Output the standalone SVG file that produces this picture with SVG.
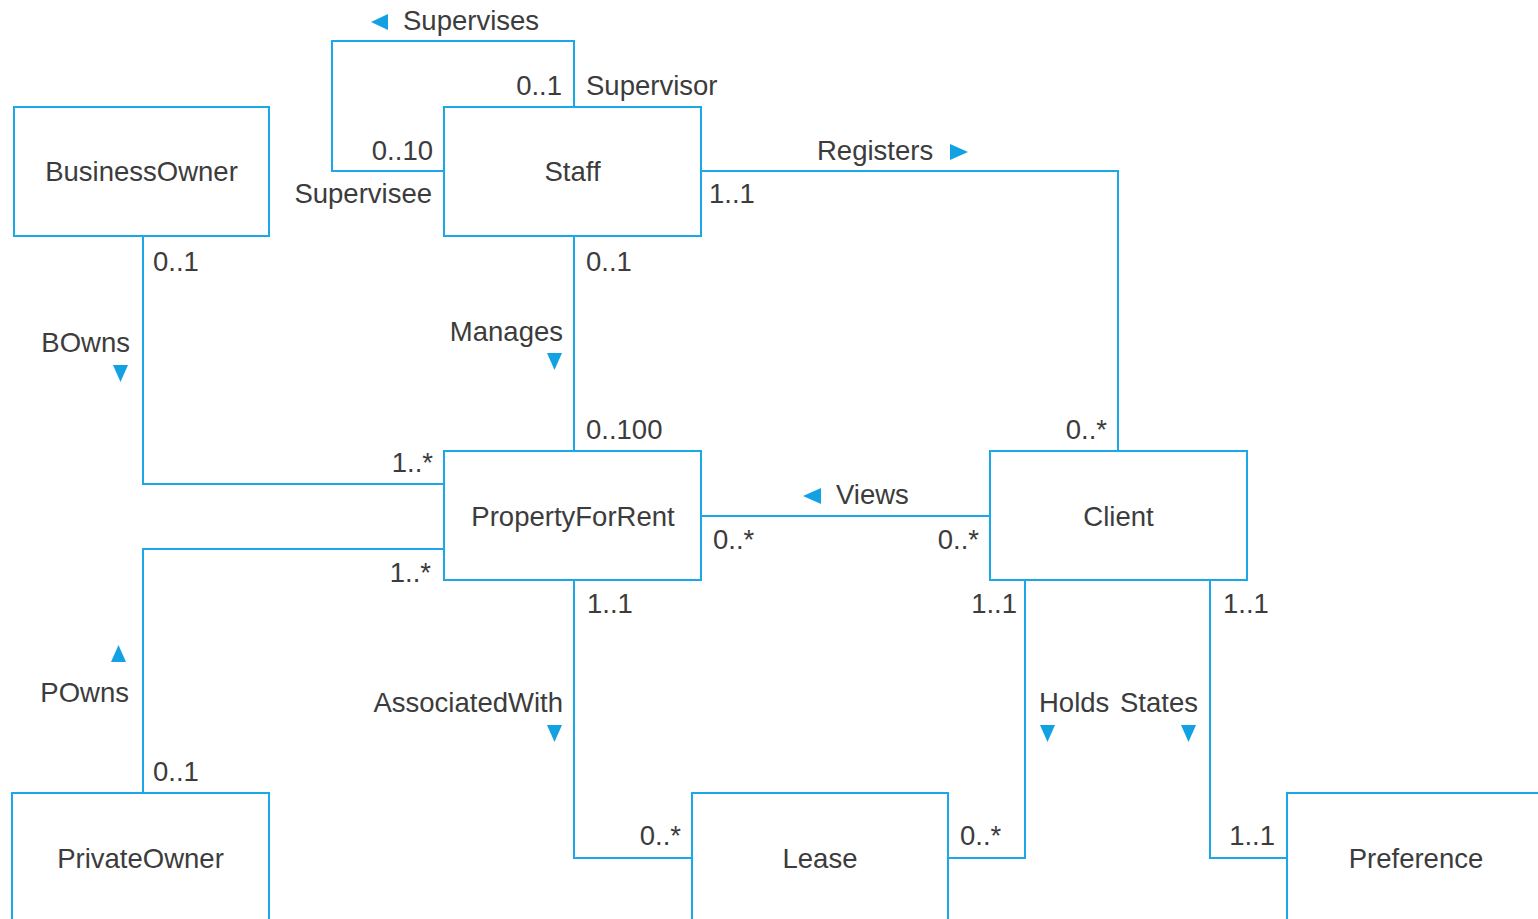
<svg xmlns="http://www.w3.org/2000/svg" width="1538" height="919" viewBox="0 0 1538 919">
<style>
.box{fill:#fff;stroke:#1aa8e8;stroke-width:2}
.ln{fill:none;stroke:#1aa8e8;stroke-width:2}
.ar{fill:#12a2e4}
text{font-family:"Liberation Sans",Arial,sans-serif;font-size:27.5px;fill:#3c3c3c}
.c{text-anchor:middle}
.e{text-anchor:end}
</style>
<rect width="1538" height="919" fill="#fff"/>
<g id="connectors">
<polyline class="ln" points="574,107 574,41 332,41 332,171 446,171"/>
<polyline class="ln" points="701,171 1118,171 1118,451"/>
<polyline class="ln" points="143,236 143,484 444,484"/>
<line class="ln" x1="574" y1="236" x2="574" y2="451"/>
<polyline class="ln" points="444,549 143,549 143,793"/>
<line class="ln" x1="701" y1="516" x2="990" y2="516"/>
<polyline class="ln" points="574,580 574,858 692,858"/>
<polyline class="ln" points="1025,580 1025,858 948,858"/>
<polyline class="ln" points="1210,580 1210,858 1287,858"/>
<polygon class="ar" points="371,22 388,14 388,30"/>
<polygon class="ar" points="968,152 950,144 950,160"/>
<polygon class="ar" points="113,365 128,365 120.5,382"/>
<polygon class="ar" points="547,353 562,353 554.5,370"/>
<polygon class="ar" points="803,496 821,488 821,504"/>
<polygon class="ar" points="111,662 126,662 118.5,645"/>
<polygon class="ar" points="547,725 562,725 554.5,742"/>
<polygon class="ar" points="1040,725 1055,725 1047.5,742"/>
<polygon class="ar" points="1181,725 1196,725 1188.5,742"/>
<text x="403" y="30">Supervises</text>
<text class="e" x="562" y="95">0..1</text>
<text x="586" y="95">Supervisor</text>
<text class="e" x="433" y="160">0..10</text>
<text class="e" x="432" y="203">Supervisee</text>
<text x="709" y="203">1..1</text>
<text x="817" y="160">Registers</text>
<text x="153" y="271">0..1</text>
<text class="e" x="130" y="352">BOwns</text>
<text x="586" y="271">0..1</text>
<text class="e" x="563" y="341">Manages</text>
<text x="586" y="439">0..100</text>
<text class="e" x="1107" y="439">0..*</text>
<text class="e" x="433" y="472">1..*</text>
<text x="836" y="504">Views</text>
<text x="713" y="549">0..*</text>
<text class="e" x="979" y="549">0..*</text>
<text class="e" x="431" y="582">1..*</text>
<text x="587" y="613">1..1</text>
<text class="e" x="1017" y="613">1..1</text>
<text x="1223" y="613">1..1</text>
<text class="e" x="129" y="702">POwns</text>
<text class="e" x="563" y="712">AssociatedWith</text>
<text x="1039" y="712">Holds</text>
<text class="e" x="1198" y="712">States</text>
<text x="153" y="781">0..1</text>
<text class="e" x="681" y="845">0..*</text>
<text x="960" y="845">0..*</text>
<text class="e" x="1275" y="845">1..1</text>
</g>
<g id="BusinessOwner"><rect class="box" x="14" y="107" width="255" height="129"/><text class="c" x="141.5" y="181">BusinessOwner</text></g>
<g id="Staff"><rect class="box" x="444" y="107" width="257" height="129"/><text class="c" x="572.5" y="181">Staff</text></g>
<g id="PropertyForRent"><rect class="box" x="444" y="451" width="257" height="129"/><text class="c" x="573" y="526">PropertyForRent</text></g>
<g id="Client"><rect class="box" x="990" y="451" width="257" height="129"/><text class="c" x="1118.5" y="526">Client</text></g>
<g id="PrivateOwner"><rect class="box" x="12" y="793" width="257" height="140"/><text class="c" x="140.5" y="868">PrivateOwner</text></g>
<g id="Lease"><rect class="box" x="692" y="793" width="256" height="140"/><text class="c" x="820" y="868">Lease</text></g>
<g id="Preference"><rect class="box" x="1287" y="793" width="270" height="140"/><text class="c" x="1416" y="868">Preference</text></g>
</svg>
